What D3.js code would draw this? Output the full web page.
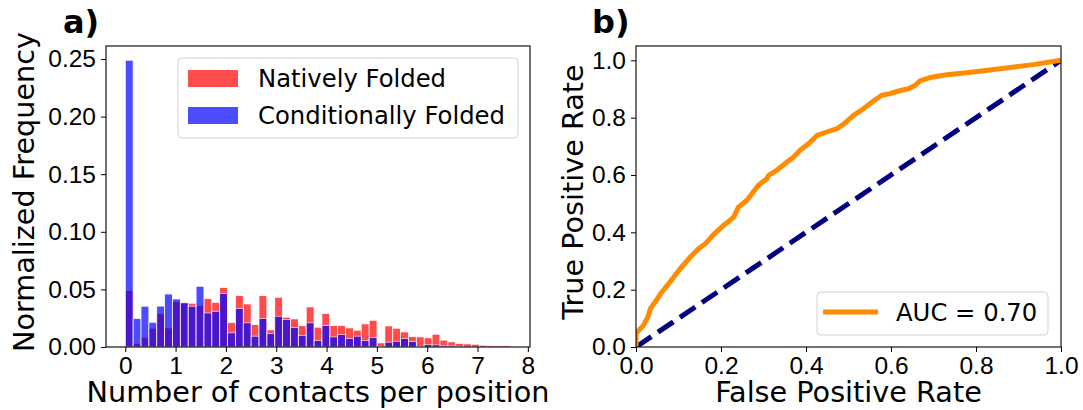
<!DOCTYPE html>
<html>
<head>
<meta charset="utf-8">
<script src="https://cdn.jsdelivr.net/npm/d3@7"></script>
<style>
  body { margin: 0; background: #fff; }
  svg { font-family: "DejaVu Sans", sans-serif; }
  .tick text { font-size: 24.5px; fill: #000; }
  .tick line, .domain { stroke: #000; }
</style>
</head>
<body>
<svg id="chart" width="1083" height="410"></svg>
<script>
// histogram bins: 49 equal bins starting at 0
var binStart = 0;
var binWidth = 7.66 / 49;

// normalized frequency per bin
var nativelyFolded = [
  0.049, 0.003, 0.0085, 0.0163, 0.029, 0.0166, 0.0394, 0.0377, 0.038, 0.036,
  0.042, 0.0388, 0.0516, 0.0212, 0.0446, 0.0374, 0.0195, 0.0446, 0.0149, 0.0432,
  0.0259, 0.0244, 0.0186, 0.0348, 0.0172, 0.029, 0.0186, 0.0186, 0.0166, 0.0146,
  0.0201, 0.0232, 0.0036, 0.0183, 0.0163, 0.0131, 0.0091, 0.0088, 0.008, 0.0111,
  0.006, 0.0045, 0.003, 0.0027, 0.0024, 0.0016, 0.0013, 0.0012, 0.0012
];
var conditionallyFolded = [
  0.249, 0.0247, 0.0354, 0.0215, 0.0355, 0.046, 0.0417, 0.0386, 0.0354, 0.0527,
  0.0296, 0.031, 0.0464, 0.0123, 0.0334, 0.021, 0.0094, 0.0247, 0.0117, 0.0267,
  0.0238, 0.0169, 0.010, 0.021, 0.0056, 0.0186, 0.0088, 0.0108, 0.0074, 0.0094,
  0.0056, 0.0082, 0.0005, 0.0042, 0.005, 0.0074, 0.0048, 0.0004, 0.0022, 0.0019,
  0.001, 0.001, 0.0005, 0, 0, 0, 0, 0, 0
];
var histXTicks = [0, 1, 2, 3, 4, 5, 6, 7, 8];
var histYTicks = [0, 0.05, 0.10, 0.15, 0.20, 0.25];

// ROC curve points
var fpr = [0, 0, 0.018, 0.028, 0.034, 0.045, 0.061, 0.077, 0.092, 0.104, 0.128, 0.147,
  0.163, 0.183, 0.206, 0.23, 0.241, 0.261, 0.273, 0.288, 0.308, 0.312, 0.331, 0.351,
  0.371, 0.386, 0.406, 0.426, 0.449, 0.473, 0.488, 0.512, 0.535, 0.559, 0.578, 0.598,
  0.618, 0.641, 0.657, 0.668, 0.692, 0.731, 0.778, 0.857, 0.935, 1.0];
var tpr = [0, 0.047, 0.076, 0.105, 0.134, 0.157, 0.192, 0.221, 0.25, 0.273, 0.314, 0.343,
  0.36, 0.393, 0.424, 0.453, 0.488, 0.512, 0.535, 0.564, 0.587, 0.599, 0.616, 0.64,
  0.663, 0.686, 0.709, 0.738, 0.75, 0.762, 0.777, 0.808, 0.831, 0.858, 0.878, 0.884,
  0.893, 0.901, 0.913, 0.928, 0.94, 0.95, 0.957, 0.971, 0.985, 1.0];
var rocTicks = [0, 0.2, 0.4, 0.6, 0.8, 1.0];
var aucLabel = "AUC = 0.70";

var svg = d3.select("#chart");

// ---------- panel a) histogram ----------
var xL = d3.scaleLinear().domain([-0.383, 8.043]).range([106, 530]);
var yL = d3.scaleLinear().domain([0, 0.2613]).range([347, 46]);

var gA = svg.append("g");

function drawBars(values, color) {
  gA.append("g").selectAll("rect")
    .data(values)
    .enter()
    .append("rect")
    .attr("x", function(d, i) { return xL(binStart + i * binWidth); })
    .attr("width", function(d, i) { return xL(binStart + (i + 1) * binWidth) - xL(binStart + i * binWidth); })
    .attr("y", function(d) { return yL(d); })
    .attr("height", function(d) { return yL(0) - yL(d); })
    .attr("fill", color)
    .attr("stroke", "#fff")
    .attr("stroke-width", 0.8)
    .attr("opacity", 0.7);
}
drawBars(nativelyFolded, "#ff0000");
drawBars(conditionallyFolded, "#0000ff");

gA.append("g")
  .attr("transform", "translate(0," + yL(0) + ")")
  .call(d3.axisBottom(xL).tickValues(histXTicks).tickSize(5).tickPadding(5).tickFormat(d3.format("d")))
  .call(function(g) { g.select(".domain").remove(); });
gA.append("g")
  .attr("transform", "translate(" + xL.range()[0] + ",0)")
  .call(d3.axisLeft(yL).tickValues(histYTicks).tickSize(5).tickPadding(5).tickFormat(d3.format(".2f")))
  .call(function(g) { g.select(".domain").remove(); });

gA.append("rect")
  .attr("x", 106).attr("y", 46)
  .attr("width", 530 - 106).attr("height", 347 - 46)
  .attr("fill", "none").attr("stroke", "#000").attr("stroke-width", 1.1);

gA.append("text")
  .attr("x", 318).attr("y", 402)
  .attr("text-anchor", "middle").attr("font-size", 28.7)
  .text("Number of contacts per position");
gA.append("text")
  .attr("transform", "translate(34,192) rotate(-90)")
  .attr("text-anchor", "middle").attr("font-size", 28.7)
  .text("Normalized Frequency");
gA.append("text")
  .attr("x", 63).attr("y", 33)
  .attr("font-size", 32).attr("font-weight", "bold")
  .text("a)");

// legend a
var legA = gA.append("g");
legA.append("rect")
  .attr("x", 178).attr("y", 58).attr("width", 340).attr("height", 80).attr("rx", 4)
  .attr("fill", "#fff").attr("fill-opacity", 0.8).attr("stroke", "#d0d0d0");
[["Natively Folded", "#ff0000"], ["Conditionally Folded", "#0000ff"]].forEach(function(item, i) {
  legA.append("rect")
    .attr("x", 188).attr("y", 70 + i * 37).attr("width", 50).attr("height", 17)
    .attr("fill", item[1]).attr("opacity", 0.7);
  legA.append("text")
    .attr("x", 258).attr("y", 87 + i * 37)
    .attr("font-size", 24.3)
    .text(item[0]);
});

// ---------- panel b) ROC ----------
var xR = d3.scaleLinear().domain([0, 1]).range([636, 1061]);
var yR = d3.scaleLinear().domain([0, 1.05]).range([347, 46]);
var gB = svg.append("g");

gB.append("g")
  .attr("transform", "translate(0," + yR(0) + ")")
  .call(d3.axisBottom(xR).tickValues(rocTicks).tickSize(5).tickPadding(5).tickFormat(d3.format(".1f")))
  .call(function(g) { g.select(".domain").remove(); });
gB.append("g")
  .attr("transform", "translate(" + xR(0) + ",0)")
  .call(d3.axisLeft(yR).tickValues(rocTicks).tickSize(5).tickPadding(5).tickFormat(d3.format(".1f")))
  .call(function(g) { g.select(".domain").remove(); });

var clip = svg.append("clipPath").attr("id", "clipR");
clip.append("rect").attr("x", 636).attr("y", 46).attr("width", 425).attr("height", 301);

gB.append("line")
  .attr("clip-path", "url(#clipR)")
  .attr("x1", xR(0)).attr("y1", yR(0)).attr("x2", xR(1)).attr("y2", yR(1))
  .attr("stroke", "#000080").attr("stroke-width", 5)
  .attr("stroke-dasharray", "18.5,8");

var rocLine = d3.line()
  .x(function(d) { return xR(d[0]); })
  .y(function(d) { return yR(d[1]); });
gB.append("path")
  .attr("clip-path", "url(#clipR)")
  .datum(d3.zip(fpr, tpr))
  .attr("d", rocLine)
  .attr("fill", "none")
  .attr("stroke", "#ff8c00").attr("stroke-width", 5)
  .attr("stroke-linejoin", "round");

gB.append("rect")
  .attr("x", 636).attr("y", 46)
  .attr("width", 1061 - 636).attr("height", 347 - 46)
  .attr("fill", "none").attr("stroke", "#000").attr("stroke-width", 1.1);

gB.append("text")
  .attr("x", 848.5).attr("y", 402)
  .attr("text-anchor", "middle").attr("font-size", 28.7)
  .text("False Positive Rate");
gB.append("text")
  .attr("transform", "translate(583,192) rotate(-90)")
  .attr("text-anchor", "middle").attr("font-size", 28.7)
  .text("True Positive Rate");
gB.append("text")
  .attr("x", 592).attr("y", 33)
  .attr("font-size", 32).attr("font-weight", "bold")
  .text("b)");

// legend b
var legB = gB.append("g");
legB.append("rect")
  .attr("x", 817).attr("y", 292).attr("width", 231).attr("height", 43).attr("rx", 4)
  .attr("fill", "#fff").attr("fill-opacity", 0.8).attr("stroke", "#d0d0d0");
legB.append("line")
  .attr("x1", 823).attr("x2", 878).attr("y1", 312).attr("y2", 312)
  .attr("stroke", "#ff8c00").attr("stroke-width", 5);
legB.append("text")
  .attr("x", 896).attr("y", 321)
  .attr("font-size", 24.3)
  .text(aucLabel);
</script>
</body>
</html>
